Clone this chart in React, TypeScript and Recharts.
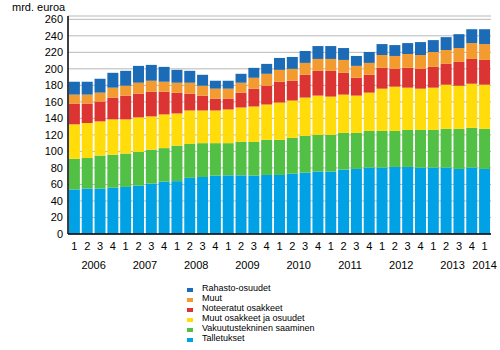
import { BarChart, Bar, XAxis, YAxis, CartesianGrid, Legend, Label } from "recharts";

const periods = [
  "2006/1", "2006/2", "2006/3", "2006/4",
  "2007/1", "2007/2", "2007/3", "2007/4",
  "2008/1", "2008/2", "2008/3", "2008/4",
  "2009/1", "2009/2", "2009/3", "2009/4",
  "2010/1", "2010/2", "2010/3", "2010/4",
  "2011/1", "2011/2", "2011/3", "2011/4",
  "2012/1", "2012/2", "2012/3", "2012/4",
  "2013/1", "2013/2", "2013/3", "2013/4",
  "2014/1",
];

// mrd. euroa
const talletukset = [54, 55, 55, 56, 57, 58.6, 61, 63.4, 64, 68, 69, 70.7, 71, 71, 70.7, 71.5, 71.5, 73, 74.3, 75.6, 75.6, 78, 78.8, 80.4, 80.4, 81.2, 81.2, 80.4, 80.4, 80.4, 78.8, 80.4, 78.8];
const vakuutus = [37, 37, 40, 40, 40.4, 40.8, 41, 40.6, 43, 41, 41, 39.3, 39, 40.5, 40.8, 42.5, 42.5, 43.4, 44.5, 44.4, 44.4, 44.4, 43.6, 44.4, 44.4, 43.6, 44.8, 45.6, 45.6, 46.9, 48.5, 48.1, 48.5];
const muutOsakkeet = [41.8, 42.4, 41.4, 42.8, 41.4, 41.8, 40.4, 40.8, 39, 40.6, 39.6, 39.6, 40.8, 41.7, 42.9, 42.8, 45.2, 45.2, 46.4, 47.6, 46.4, 46.4, 45.2, 46.4, 51.2, 53.6, 51.2, 50, 51.2, 53.5, 52.3, 53.5, 53.5];
const noteeratut = [25.2, 23.6, 24, 26.4, 28.8, 28.8, 30, 27.6, 25.2, 20.4, 18, 14.4, 13.2, 18, 21.6, 22.8, 25.2, 24, 27.6, 30, 31.2, 26.4, 21.6, 21.6, 25.2, 21.6, 24, 24, 25.2, 25.2, 28.8, 30, 30];
const muut = [10.8, 10.8, 10.8, 12, 12, 13.2, 13.2, 12, 12, 13.2, 12, 12, 12, 12, 13.2, 14.4, 14.4, 14.4, 14.4, 14.4, 14.4, 15.6, 14.4, 14.4, 15.6, 15.6, 16.8, 16.8, 18, 16.8, 16.8, 19.2, 19.2];
const rahasto = [15.6, 15.6, 16.8, 18, 18, 20.4, 19.2, 18, 15.6, 14.4, 13.2, 9.6, 9.6, 10.8, 12, 12, 14.4, 14.4, 14.4, 15.6, 15.6, 14.4, 12, 13.2, 13.2, 13.2, 13.2, 15.6, 14.4, 15.6, 16.8, 16.8, 18];

const yTicks = [0, 20, 40, 60, 80, 100, 120, 140, 160, 180, 200, 220, 240, 260];

const series = [
  { key: "talletukset", name: "Talletukset", color: "#00a2e5" },
  { key: "vakuutus", name: "Vakuutustekninen saaminen", color: "#52bf45" },
  { key: "muutOsakkeet", name: "Muut osakkeet ja osuudet", color: "#ffdc0a" },
  { key: "noteeratut", name: "Noteeratut osakkeet", color: "#dc3333" },
  { key: "muut", name: "Muut", color: "#f49b30" },
  { key: "rahasto", name: "Rahasto-osuudet", color: "#1b6bb6" },
];

const data = periods.map((p, i) => ({
  period: p,
  talletukset: talletukset[i],
  vakuutus: vakuutus[i],
  muutOsakkeet: muutOsakkeet[i],
  noteeratut: noteeratut[i],
  muut: muut[i],
  rahasto: rahasto[i],
}));

const font = "'Liberation Sans', Arial, sans-serif";

const QuarterTick = (props: any) => {
  const { x, y, payload, index } = props;
  const [year, q] = String(payload.value).split("/");
  const last = index === periods.length - 1;
  const showYear = q === "2" || last;
  const yearX = last ? x : x + 6.4;
  return (
    <g>
      <text x={x} y={y + 8} textAnchor="middle" fontSize={11} fontFamily={font} fill="#000">
        {q}
      </text>
      {showYear && (
        <text x={yearX} y={y + 27} textAnchor="middle" fontSize={11} fontFamily={font} fill="#000">
          {year}
        </text>
      )}
    </g>
  );
};

const LegendBox = () => (
  <div style={{ fontFamily: font, fontSize: 9, lineHeight: "10px", color: "#000" }}>
    {[...series].reverse().map((s) => (
      <div key={s.key} style={{ display: "flex", alignItems: "flex-end", height: 10 }}>
        <span style={{ display: "inline-block", width: 6, height: 4, background: s.color, marginRight: 9, marginBottom: 1 }} />
        <span>{s.name}</span>
      </div>
    ))}
  </div>
);

export default function App() {
  return (
    <div style={{ position: "absolute", left: 0, top: 0, width: 500, height: 350, background: "#fff" }}>
      <BarChart
        width={500}
        height={350}
        data={data}
        barCategoryGap="7%"
        margin={{ top: 16, right: 9, bottom: 76, left: 0 }}
      >
        <CartesianGrid vertical={false} stroke="#b8b8b8" strokeWidth={1} />
        <XAxis
          dataKey="period"
          interval={0}
          height={40}
          tickLine={false}
          axisLine={{ stroke: "#000", strokeWidth: 1.5 }}
          tick={<QuarterTick />}
        />
        <XAxis xAxisId="top" orientation="top" dataKey="period" height={0} tick={false} tickLine={false} axisLine={{ stroke: "#000", strokeWidth: 1.5 }} />
        <YAxis
          width={68}
          domain={[0, 264]}
          ticks={yTicks}
          interval={0}
          tickLine={false}
          tickSize={3}
          axisLine={{ stroke: "#000", strokeWidth: 1.5 }}
          tick={{ fontSize: 11, fontFamily: font, fill: "#000" }}
        >
          <Label
            content={() => (
              <text x={12} y={11} fontSize={11} fontFamily={font} fill="#000">
                mrd. euroa
              </text>
            )}
          />
        </YAxis>
        <YAxis yAxisId="right" orientation="right" width={0} tick={false} tickLine={false} domain={[0, 264]} axisLine={{ stroke: "#000", strokeWidth: 1.5 }} />
        {series.map((s) => (
          <Bar
            key={s.key}
            dataKey={s.key}
            name={s.name}
            stackId="a"
            fill={s.color}
            isAnimationActive={false}
          />
        ))}
        <Legend
          layout="horizontal"
          verticalAlign="middle"
          align="center"
          wrapperStyle={{ top: 283, left: 187, width: 200, height: 62 }}
          content={() => <LegendBox />}
        />
      </BarChart>
    </div>
  );
}
